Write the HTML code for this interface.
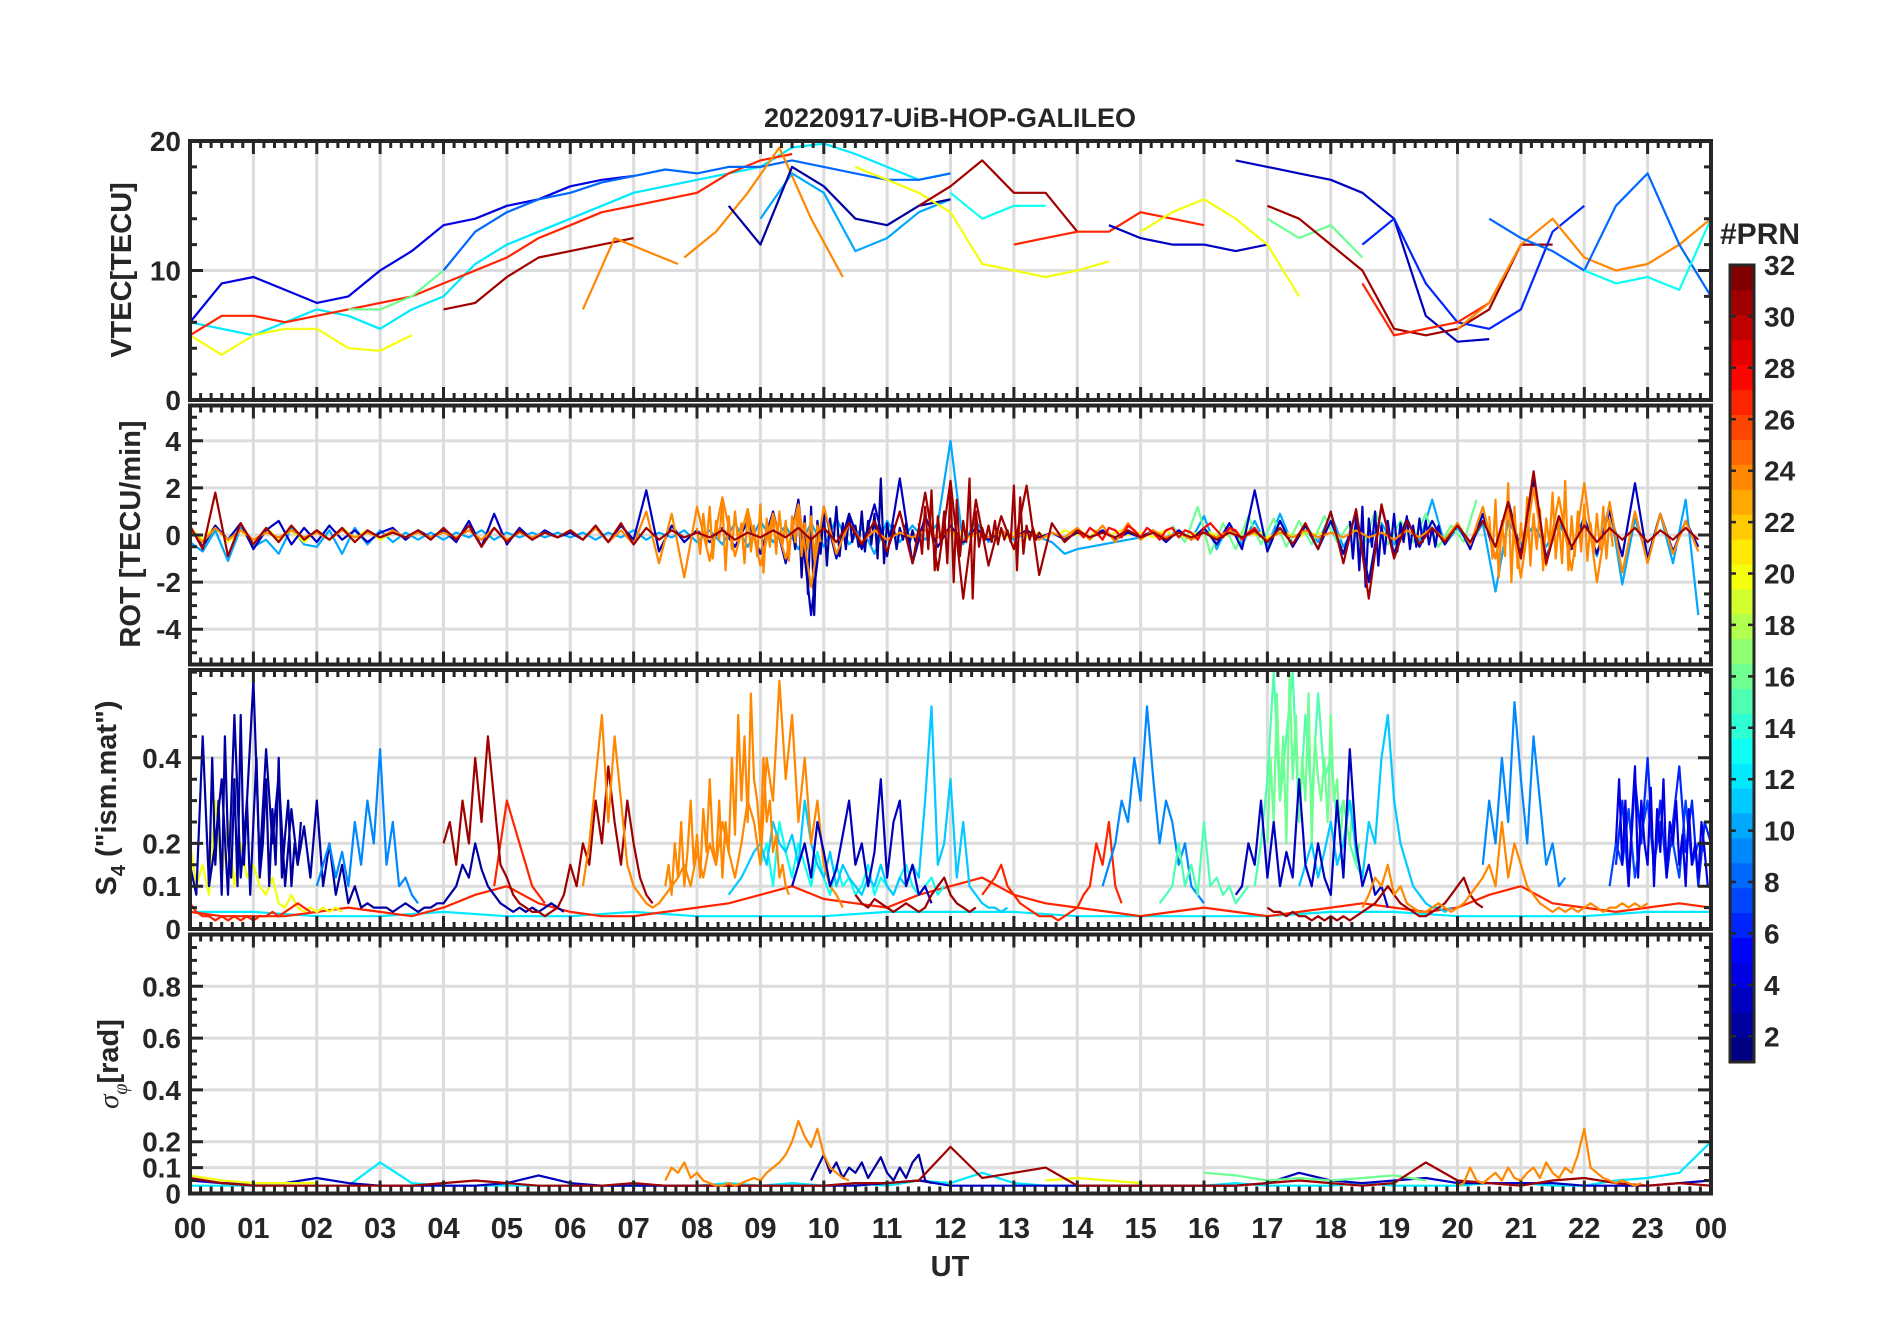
<!DOCTYPE html>
<html><head><meta charset="utf-8"><title>20220917-UiB-HOP-GALILEO</title>
<style>html,body{margin:0;padding:0;background:#fff}svg{display:block}text{font-family:"Liberation Sans",Arial,sans-serif;font-weight:bold;fill:#262626}</style></head>
<body>
<svg id="chart" width="1902" height="1330" viewBox="0 0 1902 1330" xmlns="http://www.w3.org/2000/svg">
<rect width="1902" height="1330" fill="#fff"/>
<text x="950" y="127" font-size="27" text-anchor="middle">20220917-UiB-HOP-GALILEO</text>
<text x="950" y="1276" font-size="29" text-anchor="middle">UT</text>
<text transform="translate(131,270) rotate(-90)" font-size="29" text-anchor="middle">VTEC[TECU]</text>
<text transform="translate(140,534) rotate(-90)" font-size="29" text-anchor="middle">ROT [TECU/min]</text>
<text transform="translate(116,798) rotate(-90)" font-size="29" text-anchor="middle">S<tspan font-size="20" dy="9">4</tspan><tspan dy="-9"> ("ism.mat")</tspan></text>
<text transform="translate(118,1064) rotate(-90)" font-size="29" text-anchor="middle"><tspan font-style="italic" font-weight="normal" font-family="Liberation Serif">σ</tspan><tspan font-size="20" dy="9" font-style="italic" font-weight="normal" font-family="Liberation Serif">φ</tspan><tspan dy="-9">[rad]</tspan></text>
<text x="1720" y="244" font-size="30">#PRN</text>
</svg>
<script>
// ---------- data ----------
const hourLabels = ["00","01","02","03","04","05","06","07","08","09","10","11","12","13","14","15","16","17","18","19","20","21","22","23","00"];
const vtecTicks = [0,10,20];
const rotTicks = [-4,-2,0,2,4];
const s4Ticks = [0,0.1,0.2,0.4];
const sigTicks = [0,0.1,0.2,0.4,0.6,0.8];
const prnTicks = [2,4,6,8,10,12,14,16,18,20,22,24,26,28,30,32];

// VTEC series
const vtecPrn4 = [6,9,9.5,8.5,7.5,8,10,11.5,13.5,14,15,15.5,16.5,17,17.3];
const vtecPrn8a = [10,13,14.5,15.5,16,16.8,17.3,17.8,17.5,18,18,18.5,18,17.5,17,17,17.5];
const vtecPrn2a = [15,12,18,16.5,14,13.5,15,15.5];
const vtecPrn3a = [13.5,12.5,12,12,11.5,12];
const vtecPrn3b = [18.5,18,17.5,17,16,14,6.5,4.5,4.7];
const vtecPrn6 = [12,14,9,6,5.5,7,13,15];
const vtecPrn12 = [6,5.5,5,6,7,6.5,5.5,7,8,10.5,12,13,14,15,16,16.5,17,17.5,18,19.5,19.8,19,18,17,17.5];
const vtecPrn10 = [14,17.5,16,11.5,12.5,14.5,15.5];
const vtecPrn13a = [16,14,15,15];
const vtecPrn20a = [5,3.5,5,5.5,5.5,4,3.8,5];
const vtecPrn20b = [18,17,16,14.5,10.5,10,9.5,10,10.7];
const vtecPrn20c = [13,14.5,15.5,14,12,8];
const vtecPrn24a = [7,12.5,11.5,10.5];
const vtecPrn24b = [11,13,16,19.5,14,9.5];
const vtecPrn24c = [5.5,7.5,12,14,11,10,10.5,12,14];
const vtecPrn27a = [5,6.5,6.5,6,6.5,7,7.5,8,9,10,11,12.5,13.5,14.5,15,15.5,16,17.5,18.5,19];
const vtecPrn27b = [12,12.5,13,13,14.5,14,13.5];
const vtecPrn27c = [9,5,5.5,6,7.5,12];
const vtecPrn31a = [7,7.5,9.5,11,11.5,12,12.5];
const vtecPrn31b = [15,16.5,18.5,16,16,13];
const vtecPrn31c = [15,14,12,10,5.5,5,5.5,7,12,12];
const vtecPrn8b = [14,12.5,11.5,10,15,17.5,12,8,6];
const vtecPrn13b = [10,9,9.5,8.5,14];
const vtecPrn16a = [7,7,8,10];
const vtecPrn16b = [14,12.5,13.5,11];

// ROT series
const rotPrn3 = [0.3,-0.5,0.4,-0.2,0.5,-0.6,0.2,0.6,-0.4,0.3,-0.3,0.4,-0.2,0.2,-0.3,0.1,0.3,-0.2,0.2,-0.1,0.2,-0.3,0.6,-0.5,0.9,-0.4,0.3,-0.2,0.2,-0.1,0.1,-0.2,0.3,-0.3,0.4,-0.2,1.9,-0.7,0.4,-0.3,0.2,-0.3,0.3,-0.5,0.6,-0.8,1.0,-1.2,1.5,-3.4,1.2,-1.0,0.9,-0.6,1.3,-0.9,2.4,-1.2,0.8,-0.5,0.4,-0.3,0.3,-0.2,0.2,-0.1,0.2,-0.1,0.1,-0.2,0.1,-0.1,0.2,-0.2,0.1,-0.1,0.2,-0.3,0.2,-0.2,0.3,-0.4,0.5,-0.6,1.9,-0.7,0.6,-0.5,0.4,-0.6,0.6,-0.8,1.0,-2.0,1.2,-0.8,0.7,-0.5,0.6,-0.4,0.5,-0.6,0.9,-1.0,1.5,-0.8,2.3,-1.0,0.8,-0.6,0.7,-0.8,1.0,-0.9,2.2,-1.0,0.9,-0.7,0.6,-0.5];
const rotPrn24 = [0.2,-0.3,0.3,-0.2,0.2,-0.2,0.1,-0.1,0.2,-0.1,0.1,-0.2,0.2,-0.1,0.1,-0.1,0.2,-0.1,0.1,-0.1,0.1,-0.1,0.2,-0.2,0.3,-0.2,0.1,-0.1,0.1,-0.1,0.2,-0.2,0.3,-0.3,0.2,-0.4,1.0,-1.2,0.9,-1.8,1.2,-1.1,1.6,-0.9,1.1,-1.3,0.9,-1.0,1.3,-2.2,1.2,-0.8,0.5,-0.3,0.2,-0.2,0.1,-0.1,0.2,-0.1,0.2,-0.2,0.1,-0.1,0.2,-0.1,0.1,-0.2,0.1,-0.1,0.3,-0.2,0.4,-0.3,0.5,-0.2,0.2,-0.1,0.1,-0.2,0.1,-0.1,0.2,-0.1,0.1,-0.2,0.1,-0.1,0.2,-0.1,0.1,-0.1,0.2,-0.1,0.1,-0.2,0.2,-0.1,0.3,-0.2,0.5,-0.4,1.2,-1.0,1.5,-1.8,2.0,-1.3,1.6,-1.5,2.2,-2.0,1.4,-1.6,1.0,-1.2,0.9,-0.8,0.6,-0.7];
const rotPrn31 = [0.4,-0.6,1.8,-0.9,0.5,-0.4,0.3,-0.3,0.4,-0.2,0.2,-0.2,0.3,-0.3,0.2,-0.1,0.1,-0.1,0.2,-0.2,0.3,-0.2,0.4,-0.5,0.3,-0.3,0.2,-0.2,0.1,-0.1,0.2,-0.2,0.4,-0.3,0.5,-0.4,0.3,-0.2,0.2,-0.1,0.1,-0.1,0.2,-0.2,0.1,-0.1,0.2,-0.1,0.3,-0.2,0.3,-0.3,0.5,-0.4,0.6,-0.7,1.0,-1.2,1.8,-1.5,2.3,-2.7,1.5,-1.3,0.8,-0.6,2.1,-1.7,0.5,-0.3,0.2,-0.1,0.1,-0.1,0.2,-0.1,0.1,-0.2,0.1,-0.1,0.1,-0.2,0.1,-0.1,0.2,-0.3,0.3,-0.4,0.5,-0.6,1.0,-1.2,1.1,-2.7,1.3,-1.0,0.6,-0.4,0.3,-0.3,0.4,-0.3,0.6,-0.5,1.4,-1.0,2.7,-1.2,0.8,-0.5,0.4,-0.3,0.3,-0.2,0.3,-0.3,0.2,-0.2,0.3,-0.2];
const rotPrn10 = [-0.3,-0.7,0.2,-1.1,0.3,-0.5,-0.2,-0.8,0.3,-0.4,-0.5,0.2,-0.8,0.3,-0.4,0.2,-0.3,0.1,-0.2,0.1,-0.2,0.1,-0.1,0.2,-0.2,0.1,-0.1,0.1,-0.1,0.1,-0.1,0.1,-0.2,0.1,-0.1,0.2,-0.2,0.1,-0.1,0.2,-0.3,0.2,-0.4,0.5,-0.5,0.6,-0.3,0.4,-0.6,0.5,-0.5,0.7,-0.4,0.3,-0.8,0.6,-0.3,0.4,-0.2,0.5,4.0,-0.4,0.6,-0.3,0.2,-0.2,0.1,-0.1,-0.3,-0.8,-0.6,-0.5,-0.4,-0.3,-0.2,-0.1,0.1,-0.1,0.2,-0.2,0.8,-0.6,0.5,-0.4,0.6,-0.5,0.9,-0.4,0.4,-0.3,0.9,-0.5,0.4,-0.3,0.5,-0.4,0.6,-0.3,1.5,-0.4,0.3,-0.4,0.5,-2.4,0.6,-0.4,0.4,-0.5,0.5,-0.6,0.8,-0.9,1.3,-2.1,0.7,-1.0,0.9,-1.2,1.5,-3.4];
const rotPrn16 = [0.4,-0.3,1.2,-0.8,0.5,-0.6,0.8,-0.4,0.7,-0.5,0.6,-0.4,0.8,-0.3,0.5,-0.6,1.0,-0.4,0.6,-0.3,0.9,-0.5,0.4,-0.3,1.5];
const rotPrn20 = [0.3,-0.2,0.4,-0.3,0.2,-0.4,0.3,-0.2,0.2,-0.3,0.2,-0.2,0.3,-0.1,0.2,-0.2,0.1,-0.1,0.2,-0.1];
const rotPrn20b = [0.1,-0.1,0.2,-0.1,0,0.1,-0.2,0.1,0,-0.1,0.1,0.2,-0.1,0,0.1,-0.1,0.1,0,0.2,0.1,0,0.1,-0.1,0.2,0.1,0,0.1,0.2,0,0.1,0.1,0,-0.1,0.1,0.2,0,0.1,-0.1,0,0.1,0.2,0.1,0,-0.1,0.1,0,0.1,0.2,0,0.1,-0.1,0,0.1,0.1,0,-0.1,0.1,0,0.1,0];
const rotPrn28 = [0.2,-0.1,0.3,0.1,-0.2,0.3,0.2,-0.1,0.4,0.2,-0.1,0.3,0.1,-0.2,0.2,0.3,-0.1,0.2,0.1,-0.2,0.3,0.5,0.2,-0.1,0.3,0.2,-0.2,0.1,0.3,-0.1];
const rotPrn24d = [0.3,-0.8,0.9,-0.4,1.2,-1.0,0.6,-0.2,1.4,-1.5,0.8,-0.6,1.0,-0.3,0.5,-1.2,1.1,-0.7,0.4,-0.9,1.3,-1.6,0.7,-0.5,0.9,-0.8,1.0,-0.4,0.6,-1.1,0.8,-0.3,1.2,-0.9,0.5,-0.6,0.8,-1.0,0.4,-0.3];
const rotPrn31d = [0.5,-0.8,1.2,-0.6,1.9,-1.5,0.8,-0.4,1.0,-1.2,2.0,-2.0,1.5,-0.9,0.6,-0.3,2.4,-2.7,1.0,-0.5,0.3,-0.2,0.4,-0.3,0.6,-0.4,0.3,-0.2,0.2,-0.3,2.1,-1.5,1.6,-0.8,0.4,-0.2,0.3,-0.2,0.1,-0.1];
const rotPrn2d = [0.4,-0.6,1.5,-1.8,0.8,-2.5,1.2,-3.4,0.6,-0.8,1.0,-1.3,0.7,-0.4,1.2,-0.9,0.5,-0.6,0.9,-0.3,0.4,-0.5,1.0,-0.7,0.6,-0.4,0.9,-1.0,2.4,-1.2,0.5,-0.3,0.4,-0.6,0.3,-0.2,0.5,-0.4,0.2,-0.3];
const rotPrn24e = [0.8,-1.0,1.5,-1.8,0.6,-0.9,2.2,-2.0,1.2,-1.4,0.5,-0.8,1.6,-1.3,0.9,-0.6,1.1,-1.5,0.7,-0.4,1.8,-1.0,0.6,-1.2,2.3,-1.5,0.8,-0.9,1.0,-0.7,1.3,-1.1,0.5,-0.8,0.9,-0.6,1.2,-1.0,0.7,-0.5];
const rotPrn3e = [0.6,-1.0,0.8,-1.5,1.2,-2.2,0.7,-0.5,1.0,-1.3,0.4,-0.8,0.6,-0.4,0.9,-0.7,0.5,-0.3,0.8,-0.6,0.4,-0.5,0.7,-0.3,0.6,-0.4,0.3,-0.5,0.4,-0.2];

// S4 series
const s4Prn2a = [0.15,0.08,0.45,0.1,0.2,0.35,0.08,0.5,0.12,0.3,0.58,0.15,0.42,0.2,0.36,0.1,0.28,0.15,0.24,0.12,0.3,0.1,0.2,0.08,0.15,0.06,0.1,0.05,0.06,0.05,0.05,0.05,0.04,0.05,0.06,0.05,0.04,0.05,0.05,0.06,0.06,0.08,0.1,0.15,0.12,0.2,0.14,0.1,0.08,0.06,0.05,0.04,0.05,0.04,0.05,0.04,0.05,0.06,0.05,0.04];
const s4Prn2b = [0.1,0.4,0.15,0.3,0.08,0.45,0.2,0.12,0.35,0.1,0.5,0.15,0.3,0.08,0.25,0.4,0.12,0.2,0.35,0.1,0.28,0.15,0.4,0.12,0.22,0.3,0.1,0.2,0.15,0.25];
const s4Prn3a = [0.1,0.15,0.2,0.12,0.25,0.18,0.1,0.14,0.22,0.3,0.15,0.2,0.1,0.18,0.35,0.12,0.25,0.3,0.1,0.15,0.08,0.1,0.06];
const s4Prn3b = [0.08,0.1,0.2,0.15,0.3,0.12,0.25,0.1,0.18,0.12,0.35,0.15,0.1,0.2,0.12,0.08,0.3,0.12,0.42,0.2,0.1,0.15,0.08,0.1,0.05];
const s4Prn4 = [0.2,0.35,0.15,0.3,0.1,0.25,0.38,0.12,0.3,0.2,0.15,0.33,0.1,0.28,0.18,0.35,0.12,0.25,0.2,0.3,0.15,0.22,0.1,0.28,0.15,0.2,0.12,0.25,0.18,0.1];
const s4Prn6 = [0.15,0.3,0.1,0.35,0.2,0.4,0.15,0.3,0.12,0.25,0.38,0.18,0.3,0.1,0.25,0.2];
const s4Prn9a = [0.1,0.15,0.2,0.12,0.18,0.1,0.25,0.15,0.3,0.2,0.42,0.15,0.25,0.1,0.12,0.08,0.06];
const s4Prn9b = [0.1,0.15,0.2,0.3,0.25,0.4,0.3,0.52,0.35,0.2,0.3,0.25,0.15,0.2,0.1,0.08,0.06];
const s4Prn9c = [0.15,0.3,0.2,0.4,0.25,0.53,0.35,0.2,0.45,0.3,0.15,0.2,0.1,0.12];
const s4Prn7 = [0.1,0.2,0.15,0.28,0.12,0.22,0.3,0.15,0.25,0.18,0.2,0.12,0.3,0.15,0.2,0.18];
const s4Prn11a = [0.08,0.1,0.12,0.15,0.18,0.2,0.15,0.25,0.2,0.18,0.22,0.15,0.3,0.2,0.15,0.12,0.18,0.1,0.15,0.12,0.1,0.08,0.12,0.1,0.15,0.1,0.08,0.12,0.1,0.15,0.12,0.3,0.52,0.15,0.2,0.35,0.12,0.25,0.1,0.08,0.06,0.05,0.05,0.04,0.05];
const s4Prn11b = [0.1,0.15,0.2,0.12,0.18,0.25,0.15,0.2,0.3,0.18,0.12,0.25,0.2,0.4,0.5,0.3,0.2,0.15,0.1,0.08,0.06,0.05,0.05,0.04,0.05];
const s4Prn12 = [0.04,0.04,0.03,0.03,0.04,0.03,0.03,0.04,0.03,0.03,0.03,0.04,0.04,0.04,0.03,0.03,0.03,0.03,0.04,0.04,0.03,0.03,0.03,0.04,0.04];
const s4Prn13 = [0.15,0.2,0.1,0.25,0.18,0.12,0.2,0.15,0.1,0.18,0.12,0.08,0.15,0.1,0.12,0.08,0.1,0.15,0.08,0.12,0.1,0.08,0.12,0.15,0.1,0.08,0.1,0.12,0.08,0.1];
const s4Prn15a = [0.1,0.2,0.35,0.6,0.3,0.45,0.6,0.25,0.5,0.3,0.55,0.35,0.4,0.25,0.3,0.2,0.15,0.12];
const s4Prn15b = [0.06,0.08,0.1,0.2,0.1,0.15,0.08,0.25,0.1,0.12,0.08,0.1,0.06,0.08,0.1];
const s4Prn16 = [0.2,0.4,0.25,0.55,0.3,0.45,0.2,0.6,0.35,0.5,0.25,0.4,0.3,0.55,0.2,0.45,0.35,0.3,0.4,0.25,0.5,0.3,0.35,0.2,0.3,0.25,0.2,0.3,0.15,0.2];
const s4Prn20 = [0.2,0.1,0.15,0.08,0.3,0.12,0.25,0.1,0.2,0.12,0.15,0.1,0.08,0.12,0.06,0.05,0.08,0.05,0.04,0.05,0.04,0.05,0.04,0.05,0.04];
const s4Prn24a = [0.1,0.2,0.35,0.5,0.25,0.45,0.3,0.15,0.1,0.08,0.06,0.05,0.06,0.08,0.1,0.12,0.15,0.1,0.18,0.12,0.2,0.15,0.25,0.18,0.12,0.2,0.3,0.25,0.15,0.4,0.3,0.58,0.35,0.5,0.25,0.4,0.2,0.3,0.15,0.1,0.08,0.05];
const s4Prn24b = [0.05,0.08,0.12,0.1,0.15,0.08,0.1,0.06,0.05,0.04,0.04,0.05,0.06,0.05,0.04,0.05,0.06,0.08,0.1,0.12,0.15,0.1,0.25,0.12,0.2,0.15,0.1,0.08,0.06,0.05,0.04,0.05,0.04,0.05,0.04,0.05,0.06,0.05,0.04,0.05,0.05,0.06,0.05,0.06,0.05,0.06];
const s4Prn24c = [0.1,0.15,0.08,0.2,0.12,0.25,0.1,0.18,0.3,0.15,0.22,0.12,0.28,0.18,0.35,0.2,0.15,0.3,0.12,0.25,0.18,0.4,0.22,0.5,0.3,0.45,0.25,0.55,0.35,0.3,0.2,0.4,0.25,0.3,0.18,0.22,0.12,0.15,0.1,0.08];
const s4Prn31a = [0.2,0.25,0.15,0.3,0.2,0.4,0.25,0.45,0.3,0.15,0.12,0.08,0.06,0.05,0.04,0.04,0.03,0.04,0.05,0.08,0.15,0.1,0.2,0.15,0.3,0.2,0.38,0.25,0.15,0.3,0.2,0.12,0.08,0.06];
const s4Prn31b = [0.08,0.06,0.05,0.07,0.06,0.05,0.04,0.05,0.06,0.05,0.04,0.05,0.08,0.1,0.12,0.08,0.06,0.05,0.04,0.05];
const s4Prn31c = [0.05,0.04,0.04,0.03,0.04,0.03,0.03,0.02,0.03,0.02,0.03,0.02,0.03,0.02,0.03,0.04,0.05,0.06,0.08,0.1,0.08,0.06,0.05,0.04,0.03,0.03,0.04,0.05,0.06,0.08,0.1,0.12,0.08,0.06,0.05];
const s4Prn27a = [0.06,0.04,0.03,0.03,0.02,0.03,0.02,0.03,0.02,0.03,0.02,0.03,0.03,0.04,0.03,0.04,0.05,0.06,0.05,0.04];
const s4Prn27b = [0.1,0.2,0.3,0.25,0.2,0.15,0.1,0.08,0.06];
const s4Prn27c = [0.08,0.1,0.12,0.15,0.1,0.08,0.06,0.05,0.04,0.03,0.03,0.03,0.02,0.03,0.04,0.05,0.08,0.1,0.2,0.15,0.25,0.1,0.06];
const s4Prn27d = [0.04,0.03,0.03,0.03,0.04,0.05,0.04,0.03,0.05,0.08,0.1,0.06,0.04,0.03,0.03,0.04,0.05,0.06,0.08,0.1,0.07,0.06,0.05,0.08,0.1,0.12,0.08,0.06,0.05,0.04,0.03,0.04,0.05,0.04,0.03,0.04,0.05,0.06,0.05,0.04,0.05,0.08,0.1,0.06,0.05,0.04,0.05,0.06,0.05];

// sigma-phi series
const sigPrn24a = [0.05,0.1,0.08,0.12,0.06,0.08,0.05,0.04,0.03,0.03,0.04,0.03,0.04,0.05,0.06,0.05,0.08,0.1,0.12,0.15,0.2,0.28,0.22,0.18,0.25,0.15,0.1,0.08,0.06,0.05];
const sigPrn24b = [0.03,0.04,0.1,0.05,0.04,0.06,0.08,0.05,0.1,0.06,0.05,0.08,0.1,0.06,0.12,0.08,0.06,0.1,0.08,0.15,0.25,0.1,0.08,0.06,0.05,0.04,0.05,0.04,0.03,0.04];
const sigPrn2 = [0.05,0.1,0.15,0.08,0.12,0.06,0.1,0.08,0.12,0.06,0.1,0.14,0.08,0.05,0.1,0.06,0.12,0.15,0.05,0.04];
const sigPrn3 = [0.05,0.04,0.04,0.04,0.06,0.04,0.03,0.03,0.03,0.03,0.04,0.07,0.04,0.03,0.03,0.03,0.03,0.03,0.03,0.03,0.03,0.03,0.04,0.05,0.03,0.03,0.03,0.03,0.03,0.03,0.03,0.03,0.03,0.03,0.04,0.08,0.05,0.04,0.05,0.06,0.04,0.04,0.04,0.04,0.03,0.03,0.03,0.04,0.05];
const sigPrn31 = [0.06,0.04,0.03,0.03,0.03,0.03,0.03,0.03,0.04,0.05,0.04,0.03,0.03,0.03,0.04,0.03,0.03,0.03,0.03,0.03,0.03,0.04,0.04,0.05,0.18,0.06,0.08,0.1,0.03,0.03,0.03,0.03,0.03,0.03,0.04,0.05,0.04,0.03,0.04,0.12,0.05,0.04,0.03,0.05,0.06,0.04,0.03,0.04,0.03];
const sigPrn12 = [0.03,0.03,0.03,0.03,0.03,0.03,0.12,0.04,0.03,0.03,0.03,0.03,0.03,0.03,0.03,0.03,0.03,0.04,0.03,0.04,0.03,0.04,0.03,0.05,0.04,0.08,0.04,0.03,0.03,0.03,0.03,0.03,0.03,0.04,0.03,0.03,0.03,0.04,0.03,0.03,0.03,0.04,0.04,0.03,0.03,0.05,0.06,0.08,0.2];
const sigPrn20a = [0.07,0.05,0.04,0.04,0.04];
const sigPrn20b = [0.05,0.06,0.05,0.04];
const sigPrn16 = [0.08,0.07,0.05,0.06,0.05,0.06,0.07,0.05];

// ---------- layout ----------
const NS = "http://www.w3.org/2000/svg";
const svg = document.getElementById("chart");
const L = 190, R = 1711, W = R - L;
const panelTop = [141, 405.5, 670, 934.5], panelH = 259;
const panels = [
  {name:"vtec", min:0, max:20, ticks:vtecTicks, minor:2, fmt:v=>String(v)},
  {name:"rot", min:-5.5, max:5.5, ticks:rotTicks, minor:0.5, fmt:v=>String(v)},
  {name:"s4", min:0, max:0.605, ticks:s4Ticks, minor:0.05, fmt:v=>v===0?"0":String(v)},
  {name:"sigma", min:0, max:1, ticks:sigTicks, minor:0.05, fmt:v=>v===0?"0":String(v)}
];
function xs(t){ return L + t / 24 * W; }
function ys(p, v){ const i = panels.indexOf(p); return panelTop[i] + panelH - (v - p.min) / (p.max - p.min) * panelH; }

function jet(prn){
  const t = (prn - 1) / 31;
  const c = v => Math.round(255 * Math.max(0, Math.min(1, v)));
  return "rgb(" + c(1.5 - Math.abs(4*t - 3)) + "," + c(1.5 - Math.abs(4*t - 2)) + "," + c(1.5 - Math.abs(4*t - 1)) + ")";
}
function mk(tag, attrs, parent){
  const e = document.createElementNS(NS, tag);
  for (const k in attrs) e.setAttribute(k, attrs[k]);
  (parent || svg).appendChild(e);
  return e;
}

const seriesByPanel = [
  [[vtecPrn12,12,0,.5],[vtecPrn20a,20,0,.5],[vtecPrn27a,27,0,.5],[vtecPrn4,4,0,.5],[vtecPrn8a,8,4,.5],[vtecPrn16a,16,2.5,.5],[vtecPrn31a,31,4,.5],[vtecPrn24a,24,6.2,.5],[vtecPrn24b,24,7.8,.5],[vtecPrn10,10,9,.5],[vtecPrn2a,2,8.5,.5],[vtecPrn20b,20,10.5,.5],[vtecPrn13a,13,12,.5],[vtecPrn31b,31,11.5,.5],[vtecPrn27b,27,13,.5],[vtecPrn3a,3,14.5,.5],[vtecPrn20c,20,15,.5],[vtecPrn16b,16,17,.5],[vtecPrn3b,3,16.5,.5],[vtecPrn31c,31,17,.5],[vtecPrn6,6,18.5,.5],[vtecPrn27c,27,18.5,.5],[vtecPrn24c,24,20,.5],[vtecPrn8b,8,20.5,.5],[vtecPrn13b,13,22,.5]],
  [[rotPrn10,10,0,.2],[rotPrn20,20,0,.2],[rotPrn20b,20,12,.1],[rotPrn16,16,15.5,.2],[rotPrn3,3,0,.2],[rotPrn2d,2,9.5,.05],[rotPrn3e,3,18.3,.05],[rotPrn24,24,0,.2],[rotPrn24d,24,8,.05],[rotPrn24e,24,20.5,.05],[rotPrn28,28,14,.1],[rotPrn31,31,0,.2],[rotPrn31d,31,11.5,.05]],
  [[s4Prn12,12,0,1],[s4Prn27d,27,0,.5],[s4Prn20,20,0,.1],[s4Prn2a,2,0,.1],[s4Prn2b,2,0.3,.05],[s4Prn9a,9,2,.1],[s4Prn27a,27,0,.1],[s4Prn27b,27,4.8,.1],[s4Prn31a,31,4,.1],[s4Prn13,13,9,.1],[s4Prn11a,11,8.5,.1],[s4Prn24c,24,7.5,.05],[s4Prn24a,24,6.2,.1],[s4Prn3a,3,9.5,.1],[s4Prn31b,31,10.5,.1],[s4Prn27c,27,12.5,.1],[s4Prn9b,9,14.4,.1],[s4Prn15b,15,15.3,.1],[s4Prn15a,15,16.8,.1],[s4Prn16,16,17,.05],[s4Prn11b,11,17.5,.1],[s4Prn3b,3,16.5,.1],[s4Prn31c,31,17,.1],[s4Prn24b,24,18.5,.1],[s4Prn9c,9,20.4,.1],[s4Prn7,7,22.4,.1],[s4Prn6,6,22.5,.1],[s4Prn4,4,22.5,.05]],
  [[sigPrn12,12,0,.5],[sigPrn3,3,0,.5],[sigPrn20a,20,0,.5],[sigPrn20b,20,13.5,.5],[sigPrn16,16,16,.5],[sigPrn2,2,9.8,.1],[sigPrn31,31,0,.5],[sigPrn24a,24,7.5,.1],[sigPrn24b,24,20,.1]]
];

panels.forEach((p, i) => {
  const top = panelTop[i], bot = top + panelH;
  const g = mk("g", {});
  
  
  const cp = mk("clipPath", {id:"clip" + i}, g);
  mk("rect", {x:L, y:top, width:W, height:panelH}, cp);
  for (let h = 1; h < 24; h++){
    const gl = mk("line", {x1:xs(h), x2:xs(h), y1:top, y2:bot, stroke:"#dcdcdc", "stroke-width":3}, g);
    
    
  }
  p.ticks.forEach(v => {
    if (v <= p.min || v >= p.max) return;
    const gl = mk("line", {x1:L, x2:R, y1:ys(p,v), y2:ys(p,v), stroke:"#dcdcdc", "stroke-width":3}, g);
    
    
  });
  const sg = mk("g", {"clip-path":"url(#clip" + i + ")"}, g);
  seriesByPanel[i].forEach(s => {
    const vals = s[0], prn = s[1], t0 = s[2], dt = s[3];
    const pts = vals.map((v, k) => xs(t0 + k*dt).toFixed(1) + "," + ys(p, v).toFixed(1)).join(" ");
    const pl = mk("polyline", {points:pts, fill:"none", stroke:jet(prn), "stroke-width":2.2, "stroke-linejoin":"round"}, sg);
    
    
  });
  let td = "";
  for (let m = 0; m <= 144; m++){
    const x = xs(m/6), len = (m % 6 === 0) ? 13 : 7;
    td += "M" + x.toFixed(1) + " " + top + "v" + len + "M" + x.toFixed(1) + " " + bot + "v-" + len;
  }
  const nMin = Math.round((p.max - p.min) / p.minor);
  for (let k = 0; k <= nMin + 1; k++){
    const v = Math.ceil(p.min / p.minor) * p.minor + k * p.minor;
    if (v > p.max) break;
    const major = p.ticks.some(t => Math.abs(t - v) < 1e-6);
    const len = major ? 13 : 7, y = ys(p, v).toFixed(1);
    td += "M" + L + " " + y + "h" + len + "M" + R + " " + y + "h-" + len;
  }
  const tk = mk("path", {d:td, stroke:"#262626", "stroke-width":3, fill:"none"}, g);
  
  
  const fr = mk("rect", {x:L, y:top, width:W, height:panelH, fill:"none", stroke:"#262626", "stroke-width":4}, g);
  
  
  p.ticks.forEach(v => {
    const tx = mk("text", {x:L - 9, y:ys(p, v) + 10, "font-size":28, "text-anchor":"end"}, g);
    tx.textContent = p.fmt(v);
    
    
  });
});

hourLabels.forEach((lab, h) => {
  const tx = mk("text", {x:xs(h), y:1238, "font-size":29, "text-anchor":"middle"});
  tx.textContent = lab;
  
  
});

// colorbar
const cbX = 1730, cbW = 24, cbTop = 265, cbBot = 1062;
const cb = mk("g", {});


function cbY(v){ return cbBot - (v - 1) / 31 * (cbBot - cbTop); }
for (let k = 0; k < 32; k++){
  const y0 = cbBot - (k + 1) * (cbBot - cbTop) / 32, hgt = (cbBot - cbTop) / 32 + 0.6;
  const r = mk("rect", {x:cbX, y:y0.toFixed(2), width:cbW, height:hgt.toFixed(2), fill:jet(k + 1)}, cb);
  
  
}
let cbd = "";
prnTicks.forEach(v => { const y = cbY(v).toFixed(1); cbd += "M" + cbX + " " + y + "h6M" + (cbX + cbW) + " " + y + "h-6"; });
const cbt = mk("path", {d:cbd, stroke:"#262626", "stroke-width":2.5, fill:"none"}, cb);


const cbf = mk("rect", {x:cbX, y:cbTop, width:cbW, height:cbBot - cbTop, fill:"none", stroke:"#262626", "stroke-width":3}, cb);


prnTicks.forEach(v => {
  const tx = mk("text", {x:cbX + cbW + 10, y:cbY(v) + 10, "font-size":28}, cb);
  tx.textContent = String(v);
  
  
});
</script>
</body></html>
